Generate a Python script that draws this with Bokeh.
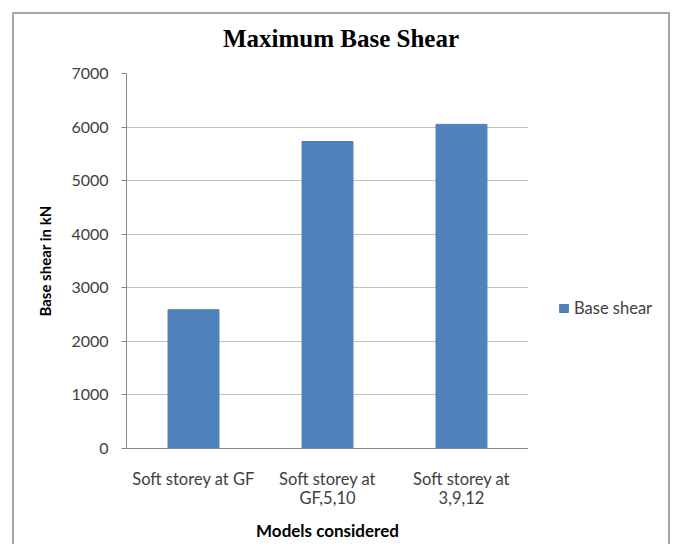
from bokeh.plotting import figure
from bokeh.layouts import row, column
from bokeh.models import (Legend, LegendItem, FactorRange, ColumnDataSource,
                          FixedTicker, Div)
from bokeh.embed import file_html
from bokeh.resources import INLINE

title_text = "Maximum Base Shear"
categories = ["Soft storey at GF", "Soft storey at\nGF,5,10", "Soft storey at\n3,9,12"]
base_shear = [2590, 5730, 6050]
y_ticks = [0, 1000, 2000, 3000, 4000, 5000, 6000, 7000]
series_name = "Base shear"
bar_color = "#4F81BD"

source = ColumnDataSource(dict(cat=categories, val=base_shear))

title_div = Div(text=title_text, width=654, height=50, margin=0,
                styles={"font-family": "Liberation Serif", "font-size": "25px",
                        "font-weight": "bold", "color": "#000000",
                        "text-align": "center", "line-height": "50px",
                        "white-space": "nowrap"})

p = figure(x_range=FactorRange(*categories), y_range=(0, 7000), title=None,
           frame_width=402, frame_height=375,
           output_backend="svg", toolbar_location=None,
           min_border_left=112, min_border_right=0, min_border_top=9,
           min_border_bottom=96)
p.margin = 0
p.background_fill_color = "white"
p.border_fill_color = "white"
p.outline_line_color = None

bars = p.vbar(x="cat", top="val", width=0.38, source=source,
              fill_color=bar_color, line_color="#4A7EBB")

tick_font = "Lato"
p.yaxis.ticker = FixedTicker(ticks=y_ticks)
p.yaxis.axis_label = "Base shear in kN"
p.yaxis.axis_label_text_font = tick_font
p.yaxis.axis_label_text_font_size = "15px"
p.yaxis.axis_label_text_font_style = "bold"
p.yaxis.axis_label_text_color = "#000000"
p.yaxis.axis_label_standoff = 14
p.yaxis.major_label_text_font = tick_font
p.yaxis.major_label_text_font_size = "16px"
p.yaxis.major_label_text_color = "#404040"
p.yaxis.major_tick_out = 5
p.yaxis.major_tick_in = 0
p.yaxis.minor_tick_line_color = None
p.yaxis.major_tick_line_color = "#868686"
p.yaxis.axis_line_color = "#868686"
p.yaxis.major_label_standoff = 13

p.xaxis.axis_label = "Models considered"
p.xaxis.axis_label_text_font = tick_font
p.xaxis.axis_label_text_font_size = "17px"
p.xaxis.axis_label_text_font_style = "bold"
p.xaxis.axis_label_text_color = "#000000"
p.xaxis.axis_label_standoff = 9
p.xaxis.major_label_text_font = tick_font
p.xaxis.major_label_text_font_size = "16.5px"
p.xaxis.major_label_text_color = "#404040"
p.xaxis.major_label_text_line_height = 0.95
p.xaxis.major_tick_line_color = None
p.xaxis.major_tick_out = 0
p.xaxis.major_tick_in = 0
p.xaxis.major_label_standoff = 20
p.xaxis.axis_line_color = "#868686"

p.xgrid.grid_line_color = None
p.ygrid.grid_line_color = "#C0C0C0"

# legend panel to the right of the plot
lf = figure(x_range=(0, 140), y_range=(0, 375), title=None,
            frame_width=140, frame_height=375,
            x_axis_type=None, y_axis_type=None,
            output_backend="svg", toolbar_location=None,
            min_border_left=0, min_border_right=0,
            min_border_top=9, min_border_bottom=96)
lf.margin = 0
lf.grid.visible = False
lf.outline_line_color = None
lf.background_fill_color = "white"
lf.border_fill_color = "white"
# legend key renderer (shares the data, lies outside this panel's visible range)
key = lf.vbar(x="val", top="val", width=1, source=source,
              fill_color=bar_color, line_color="#4A7EBB")

legend = Legend(items=[LegendItem(label=series_name, renderers=[key])],
                location=(30, 130), border_line_color=None,
                background_fill_alpha=0, padding=0, margin=0,
                glyph_width=11, glyph_height=10, label_standoff=5,
                label_text_font=tick_font, label_text_font_size="16.5px",
                label_text_color="#404040")
lf.add_layout(legend, "center")

layout = column(title_div, row(p, lf, spacing=0), spacing=0)
layout.margin = (12, 0, 0, 12)
layout.styles = {"border": "2px solid #a6a6a6", "border-bottom": "none"}

open("out.html", "w").write(file_html(layout, INLINE))
